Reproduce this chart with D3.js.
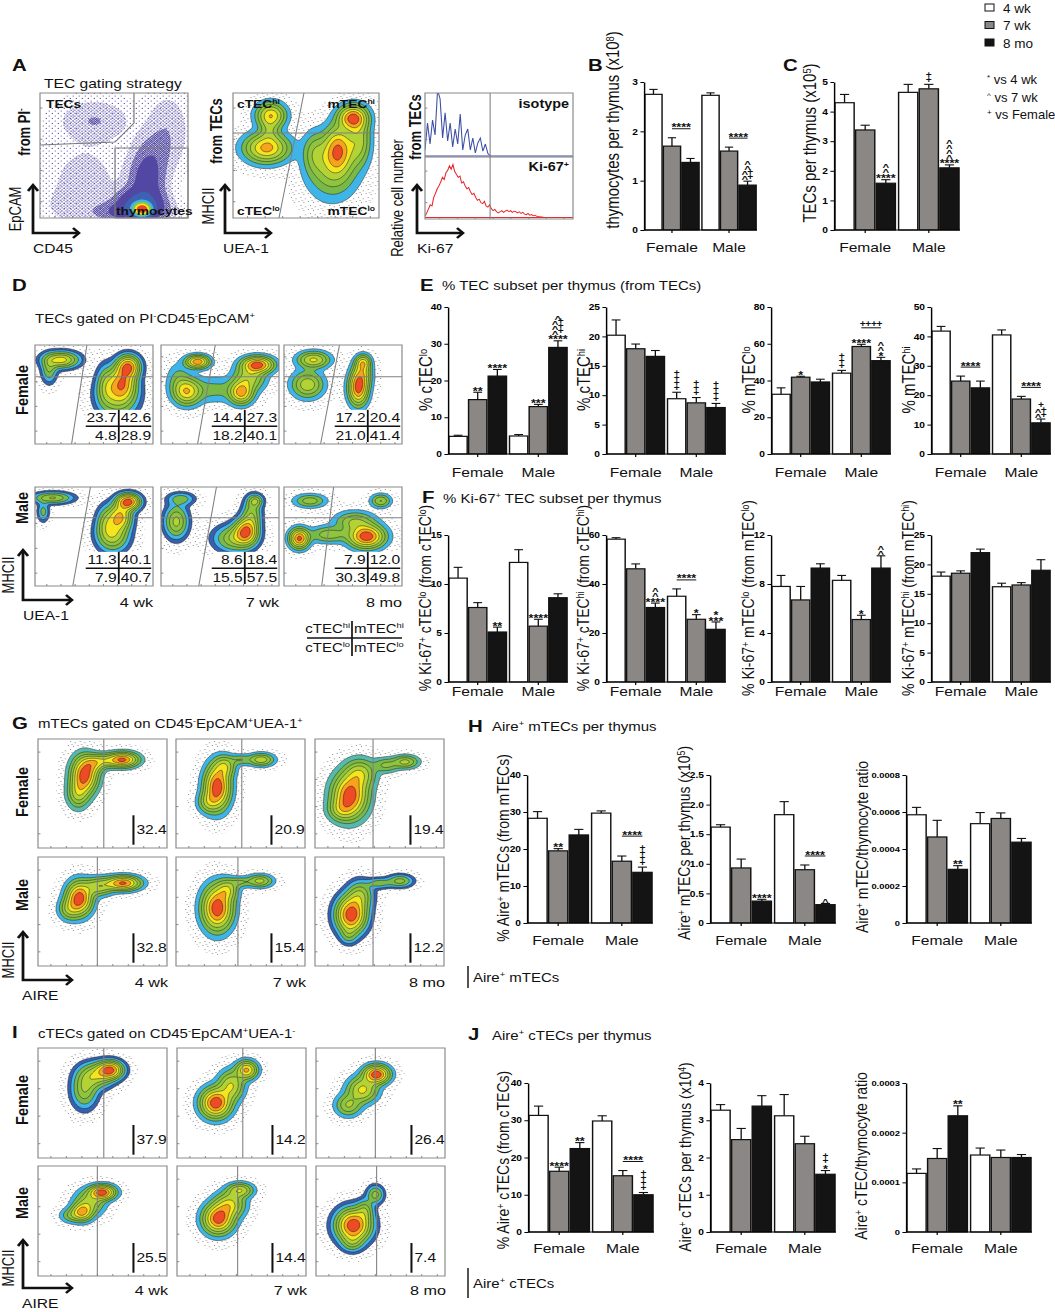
<!DOCTYPE html>
<html>
<head>
<meta charset="utf-8">
<script src="https://cdn.jsdelivr.net/npm/d3@7"></script>
<style>
body { margin: 0; background: #fff; }
text { font-family: "Liberation Sans", Arial, Helvetica, sans-serif; }
</style>
</head>
<body>
<svg id="fig" width="1055" height="1312"></svg>
<script>
// ---------------- data ----------------
var groups = ['Female', 'Male']
var ages = ['4 wk', '7 wk', '8 mo']
var sigLegend = [['*', 'vs 4 wk'], ['^', 'vs 7 wk'], ['+', 'vs Female']]

// B thymocytes per thymus (x10^8)
var thymMean = [[2.75, 1.70, 1.37], [2.73, 1.60, 0.91]]
var thymErr = [[0.10, 0.17, 0.08], [0.05, 0.08, 0.08]]
// C TECs per thymus (x10^5)
var tecMean = [[4.30, 3.38, 1.58], [4.65, 4.77, 2.10]]
var tecErr = [[0.28, 0.16, 0.12], [0.27, 0.15, 0.10]]
// E % TEC subset
var cTECloPct = [[4.8, 14.8, 21.2], [4.9, 12.9, 29.0]]
var cTECloPctErr = [[0.3, 2.0, 1.8], [0.4, 0.6, 1.8]]
var cTEChiPct = [[20.2, 17.9, 16.6], [9.4, 8.7, 7.9]]
var cTEChiPctErr = [[2.6, 0.8, 1.0], [1.1, 0.9, 0.7]]
var mTECloPct = [[32.5, 41.8, 39.2], [44.0, 58.5, 50.8]]
var mTECloPctErr = [[3.5, 0.5, 1.5], [1.5, 1.2, 1.8]]
var mTEChiPct = [[41.8, 24.8, 22.5], [40.5, 18.7, 10.6]]
var mTEChiPctErr = [[1.6, 1.7, 2.3], [1.7, 0.9, 1.3]]
// F % Ki-67+
var kiCTEClo = [[10.6, 7.6, 5.1], [12.2, 5.7, 8.6]]
var kiCTECloErr = [[1.1, 0.5, 0.5], [1.3, 0.7, 0.4]]
var kiCTEChi = [[58.3, 46.2, 30.4], [35.0, 25.6, 21.5]]
var kiCTEChiErr = [[0.6, 2.0, 1.8], [3.0, 1.9, 3.0]]
var kiMTEClo = [[7.8, 6.7, 9.3], [8.3, 5.1, 9.3]]
var kiMTECloErr = [[0.9, 1.1, 0.35], [0.4, 0.35, 1.0]]
var kiMTEChi = [[18.0, 18.5, 22.0], [16.2, 16.5, 19.0]]
var kiMTEChiErr = [[0.7, 0.4, 0.6], [0.6, 0.4, 1.8]]
// H Aire+ mTECs
var aireMPct = [[28.3, 19.5, 23.8], [29.7, 16.7, 13.7]]
var aireMPctErr = [[1.8, 0.6, 1.5], [0.6, 1.4, 1.4]]
var aireMNum = [[1.62, 0.93, 0.37], [1.83, 0.90, 0.31]]
var aireMNumErr = [[0.04, 0.15, 0.03], [0.22, 0.08, 0.02]]
var aireMRatio = [[0.000585, 0.000465, 0.00029], [0.000537, 0.000565, 0.000437]]
var aireMRatioErr = [[0.00004, 0.00009, 0.00002], [0.00006, 0.00003, 0.00002]]
// J Aire+ cTECs
var aireCPct = [[31.3, 16.3, 22.4], [29.8, 15.1, 10.0]]
var aireCPctErr = [[2.5, 1.1, 1.6], [1.4, 1.4, 0.6]]
var aireCNum = [[3.27, 2.48, 3.38], [3.12, 2.37, 1.55]]
var aireCNumErr = [[0.15, 0.30, 0.28], [0.57, 0.20, 0.10]]
var aireCRatio = [[0.000118, 0.000148, 0.000234], [0.000155, 0.000150, 0.000150]]
var aireCRatioErr = [[0.000009, 0.00002, 0.00002], [0.000014, 0.000015, 0.000006]]

// significance marks: [group, bar, rows top->bottom]; brackets: [group, barA, barB, text]
var thymAnn = [[1, 2, ['^', '^', '^+', '^+']]]
var thymBrk = [[0, 1, 2, '****'], [1, 1, 2, '****']]
var tecAnn = [[0, 2, ['^', '^', '****']], [1, 1, ['+', '+']], [1, 2, ['^', '^', '^', '^', '****']]]
var cTECloAnn = [[0, 1, ['**']], [0, 2, ['****']], [1, 1, ['***']], [1, 2, ['^', '^+', '^+', '^+', '****']]]
var cTEChiAnn = [[1, 0, ['+', '+', '+', '+']], [1, 1, ['+', '+', '+']], [1, 2, ['+', '+', '+', '+']]]
var mTECloAnn = [[0, 1, ['*']], [1, 0, ['+', '+', '+']], [1, 1, ['****']], [1, 2, ['^', '^', '*']]]
var mTECloBrk = [[1, 1, 2, '++++']]
var mTEChiAnn = [[1, 2, ['+', '^+', '^+']]]
var mTEChiBrk = [[0, 1, 2, '****'], [1, 1, 2, '****']]
var kiCTECloAnn = [[0, 2, ['**']], [1, 1, ['****']]]
var kiCTEChiAnn = [[0, 2, ['^', '^', '****']], [1, 1, ['*']], [1, 2, ['*', '***']]]
var kiCTEChiBrk = [[1, 0, 1, '****']]
var kiMTECloAnn = [[1, 1, ['*']], [1, 2, ['^', '^']]]
var aireMPctAnn = [[0, 1, ['**']], [1, 2, ['+', '+', '+', '+']]]
var aireMPctBrk = [[1, 1, 2, '****']]
var aireMNumAnn = [[0, 2, ['****']], [1, 2, ['^']]]
var aireMNumBrk = [[1, 1, 2, '****']]
var aireMRatioAnn = [[0, 2, ['**']]]
var aireCPctAnn = [[0, 1, ['****']], [0, 2, ['**']], [1, 2, ['+', '+', '+', '+']]]
var aireCPctBrk = [[1, 1, 2, '****']]
var aireCNumAnn = [[1, 2, ['+', '+', '*']]]
var aireCRatioAnn = [[0, 2, ['**']]]

// flow percentages
var dPct = [[[23.7, 42.6, 4.8, 28.9], [14.4, 27.3, 18.2, 40.1], [17.2, 20.4, 21.0, 41.4]],
            [[11.3, 40.1, 7.9, 40.7], [8.6, 18.4, 15.5, 57.5], [7.9, 12.0, 30.3, 49.8]]]
var gAire = [[32.4, 20.9, 19.4], [32.8, 15.4, 12.2]]
var iAire = [[37.9, 14.2, 26.4], [25.5, 14.4, 7.4]]

// gate positions (fraction of axis)
var dHline = [[0.32, 0.32, 0.32], [0.31, 0.31, 0.31]]
var dDiagTop = [[0.44, 0.46, 0.47], [0.47, 0.47, 0.42]]
var dDiagBot = [[0.31, 0.31, 0.31], [0.32, 0.32, 0.32]]
var gGate = [[0.51, 0.51, 0.45], [0.46, 0.48, 0.45]]
var iGate = [[0.51, 0.51, 0.46], [0.46, 0.47, 0.47]]

// population blobs: [x, y(from top), sdx, sdy, weight] in axis fractions
var gatingBlobs = [[0.69, 0.93, 0.04, 0.035, 12], [0.68, 0.88, 0.09, 0.07, 2.5], [0.72, 0.7, 0.07, 0.12, 1.2],
  [0.76, 0.5, 0.08, 0.12, 0.45], [0.62, 0.95, 0.14, 0.05, 1.2], [0.37, 0.22, 0.14, 0.1, 0.35],
  [0.86, 0.3, 0.09, 0.18, 0.3], [0.3, 0.7, 0.18, 0.22, 0.18], [0.2, 0.92, 0.15, 0.1, 0.1]]
var subsetBlobs = [[0.26, 0.18, 0.06, 0.06, 0.8], [0.23, 0.44, 0.09, 0.07, 0.9], [0.25, 0.3, 0.04, 0.06, 0.25],
  [0.82, 0.2, 0.06, 0.06, 1.1], [0.72, 0.45, 0.06, 0.11, 0.9], [0.68, 0.6, 0.1, 0.14, 0.45],
  [0.56, 0.48, 0.05, 0.1, 0.3], [0.86, 0.38, 0.05, 0.12, 0.5]]
var dBlobs = [[
  [[0.22, 0.15, 0.09, 0.05, 0.7], [0.12, 0.25, 0.04, 0.08, 0.3], [0.79, 0.22, 0.06, 0.07, 1.0], [0.74, 0.38, 0.07, 0.1, 0.8], [0.7, 0.52, 0.1, 0.12, 0.5], [0.6, 0.4, 0.05, 0.12, 0.3]],
  [[0.31, 0.17, 0.06, 0.04, 0.8], [0.22, 0.47, 0.07, 0.08, 0.6], [0.82, 0.2, 0.08, 0.05, 0.9], [0.68, 0.48, 0.06, 0.07, 0.7], [0.75, 0.33, 0.08, 0.08, 0.4], [0.45, 0.45, 0.15, 0.08, 0.15], [0.15, 0.35, 0.06, 0.1, 0.15]],
  [[0.25, 0.15, 0.08, 0.05, 0.6], [0.2, 0.4, 0.08, 0.08, 0.5], [0.63, 0.44, 0.05, 0.1, 1.0], [0.67, 0.18, 0.04, 0.05, 0.6], [0.66, 0.3, 0.05, 0.08, 0.5]]
], [
  [[0.15, 0.11, 0.1, 0.035, 0.4], [0.07, 0.25, 0.03, 0.06, 0.2], [0.79, 0.15, 0.06, 0.05, 1.0], [0.72, 0.3, 0.06, 0.08, 0.7], [0.66, 0.48, 0.08, 0.1, 0.5], [0.6, 0.35, 0.05, 0.1, 0.25]],
  [[0.13, 0.35, 0.06, 0.1, 0.5], [0.17, 0.12, 0.07, 0.04, 0.25], [0.72, 0.45, 0.06, 0.08, 1.0], [0.8, 0.14, 0.04, 0.04, 0.4], [0.62, 0.52, 0.1, 0.08, 0.45], [0.77, 0.28, 0.05, 0.1, 0.4]],
  [[0.13, 0.52, 0.05, 0.06, 0.9], [0.22, 0.14, 0.08, 0.04, 0.3], [0.7, 0.5, 0.09, 0.07, 1.0], [0.82, 0.14, 0.05, 0.04, 0.35], [0.6, 0.35, 0.1, 0.06, 0.35], [0.38, 0.48, 0.1, 0.05, 0.3]]
]]
var gBlobs = [[
  [[0.36, 0.33, 0.06, 0.1, 1.0], [0.31, 0.5, 0.05, 0.08, 0.4], [0.66, 0.19, 0.07, 0.04, 0.9], [0.5, 0.2, 0.08, 0.04, 0.4], [0.43, 0.24, 0.05, 0.05, 0.3]],
  [[0.32, 0.44, 0.06, 0.12, 1.0], [0.38, 0.25, 0.05, 0.06, 0.4], [0.66, 0.19, 0.06, 0.035, 0.45], [0.5, 0.19, 0.05, 0.03, 0.2], [0.25, 0.58, 0.05, 0.06, 0.3]],
  [[0.27, 0.52, 0.08, 0.12, 1.0], [0.35, 0.32, 0.07, 0.08, 0.45], [0.7, 0.21, 0.06, 0.035, 0.4], [0.55, 0.24, 0.06, 0.04, 0.25], [0.2, 0.65, 0.06, 0.06, 0.3]]
], [
  [[0.32, 0.38, 0.06, 0.09, 1.0], [0.66, 0.24, 0.08, 0.04, 0.9], [0.47, 0.27, 0.07, 0.05, 0.45], [0.24, 0.48, 0.05, 0.06, 0.3]],
  [[0.32, 0.47, 0.07, 0.12, 1.0], [0.4, 0.3, 0.05, 0.06, 0.4], [0.65, 0.22, 0.06, 0.035, 0.4], [0.5, 0.23, 0.05, 0.03, 0.2]],
  [[0.28, 0.53, 0.07, 0.1, 1.0], [0.35, 0.35, 0.06, 0.08, 0.35], [0.66, 0.22, 0.06, 0.035, 0.3], [0.5, 0.24, 0.06, 0.03, 0.2], [0.26, 0.72, 0.04, 0.05, 0.15]]
]]
var iBlobs = [[
  [[0.56, 0.2, 0.06, 0.05, 1.0], [0.45, 0.25, 0.08, 0.07, 0.5], [0.36, 0.38, 0.06, 0.1, 0.4]],
  [[0.3, 0.5, 0.07, 0.08, 1.0], [0.54, 0.2, 0.05, 0.05, 0.7], [0.42, 0.34, 0.06, 0.08, 0.5]],
  [[0.47, 0.24, 0.06, 0.05, 1.0], [0.36, 0.38, 0.07, 0.07, 0.55], [0.25, 0.52, 0.06, 0.06, 0.35]]
], [
  [[0.5, 0.24, 0.06, 0.04, 1.0], [0.34, 0.42, 0.05, 0.05, 0.7], [0.4, 0.33, 0.07, 0.07, 0.4], [0.25, 0.45, 0.05, 0.04, 0.2]],
  [[0.32, 0.48, 0.07, 0.08, 1.0], [0.49, 0.22, 0.06, 0.04, 0.5], [0.41, 0.35, 0.07, 0.07, 0.55]],
  [[0.29, 0.54, 0.08, 0.09, 1.0], [0.46, 0.26, 0.04, 0.05, 0.3], [0.38, 0.4, 0.04, 0.06, 0.25], [0.28, 0.7, 0.05, 0.05, 0.2]]
]]

// Ki-67 histograms (relative cell number per channel)
var isotypeHist = [0.1, 0.55, 0.2, 0.6, 0.35, 1.1, 0.95, 0.3, 0.72, 0.25, 0.55, 0.15, 0.45, 0.2, 0.7, 0.1, 0.35, 0.45, 0.1, 0.3, 0.05, 0.22, 0.3, 0.08, 0.2, 0.04, 0]
var ki67Hist = [0.02, 0.08, 0.15, 0.22, 0.2, 0.35, 0.42, 0.5, 0.55, 0.62, 0.7, 0.66, 0.78, 0.82, 0.9, 0.84, 0.92, 0.8, 0.75, 0.7,
  0.72, 0.6, 0.62, 0.55, 0.5, 0.52, 0.45, 0.4, 0.42, 0.35, 0.3, 0.32, 0.26, 0.24, 0.28, 0.2, 0.18, 0.22, 0.15, 0.12,
  0.14, 0.1, 0.08, 0.1, 0.12, 0.09, 0.11, 0.13, 0.1, 0.12, 0.09, 0.11, 0.1, 0.08, 0.1, 0.07, 0.09, 0.06, 0.05, 0.07,
  0.04, 0.05, 0.03, 0.04, 0.02, 0.02, 0.01, 0.01, 0]

// ---------------- drawing ----------------
var SX = 1.2   // the figure is stretched horizontally
function X(v) { return v / SX }
var svg = d3.select('#fig')
var defs = svg.append('defs')
var root = svg.append('g').attr('transform', 'scale(' + SX + ',1)')
var barFill = ['#ffffff', '#8b8784', '#141414']

function rich(t, s) {
  s.split(/(\^\{[^}]*\})/).forEach(function (p) {
    if (!p) return
    if (p.charAt(0) === '^' && p.charAt(1) === '{') t.append('tspan').attr('baseline-shift', 'super').attr('font-size', '62%').text(p.slice(2, -1))
    else t.append('tspan').text(p)
  })
  return t
}
function txt(x, y, s, size, o) {
  o = o || {}
  var t = root.append('text').attr('x', X(x)).attr('y', y).attr('font-size', size)
    .attr('font-weight', o.bold ? 'bold' : 'normal').attr('text-anchor', o.anchor || 'start').attr('fill', '#111')
  return rich(t, s)
}
function vtxt(x, y, s, size, o) {
  o = o || {}
  var t = root.append('text').attr('transform', 'translate(' + X(x) + ',' + y + ') rotate(-90)')
    .attr('dy', '0.36em').attr('font-size', size).attr('font-weight', o.bold ? 'bold' : 'normal')
    .attr('text-anchor', 'middle').attr('fill', '#111')
  return rich(t, s)
}
function seg(x1, y1, x2, y2, col, w) {
  root.append('line').attr('x1', X(x1)).attr('y1', y1).attr('x2', X(x2)).attr('y2', y2)
    .attr('stroke', col || '#111').attr('stroke-width', w || 1)
}
function axisArrow(x, y, up, right) {
  var g = root.append('g').attr('stroke', '#111').attr('stroke-width', 2.3).attr('fill', 'none')
  g.append('path').attr('d', 'M' + X(x) + ',' + (y - up) + 'V' + y + 'H' + X(x + right))
  g.append('path').attr('d', 'M' + X(x - 5) + ',' + (y - up + 6) + 'L' + X(x) + ',' + (y - up) + 'L' + X(x + 5) + ',' + (y - up + 6))
  g.append('path').attr('d', 'M' + X(x + right - 6) + ',' + (y - 5) + 'L' + X(x + right) + ',' + y + 'L' + X(x + right - 6) + ',' + (y + 5))
}
function dotPattern(id, size, pts, r, color) {
  var p = defs.append('pattern').attr('id', id).attr('patternUnits', 'userSpaceOnUse').attr('width', size).attr('height', size)
  pts.forEach(function (q) { p.append('circle').attr('cx', q[0]).attr('cy', q[1]).attr('r', r).attr('fill', color) })
}
dotPattern('dots', 8, [[1, 1.5], [5.2, 2.6], [2.8, 5.4], [6.6, 6.8], [4, 0.2]], 0.5, '#7e7e7e')
dotPattern('pu1', 5, [[1, 1], [3.6, 3.4]], 0.55, '#5a4fa8')
dotPattern('pu2', 3, [[0.8, 0.8], [2.3, 2.2]], 0.6, '#5a4fa8')
dotPattern('pu3', 2, [[0.5, 0.5], [1.5, 1.5]], 0.65, '#5148a0')

// ---- flow plots ----
function density(comps, nx, ny) {
  var v = []
  for (var j = 0; j < ny; j++) for (var i = 0; i < nx; i++) {
    var px = (i + 0.5) / nx, py = (j + 0.5) / ny, s = 0
    for (var k = 0; k < comps.length; k++) {
      var c = comps[k], dx = (px - c[0]) / c[2], dy = (py - c[1]) / c[3]
      s += c[4] * Math.exp(-0.5 * (dx * dx + dy * dy))
    }
    v.push(s)
  }
  return v
}
var clipN = 0
function flowFrame(b) {
  var f = { bx: X(b.x), by: b.y, bw: X(b.w), bh: b.h, nx: 96 }
  f.ny = Math.round(f.nx * b.h / b.w)
  var id = 'clip' + (clipN++)
  defs.append('clipPath').attr('id', id).append('rect').attr('x', f.bx).attr('y', f.by).attr('width', f.bw).attr('height', f.bh)
  f.g = root.append('g')
  f.inner = f.g.append('g').attr('clip-path', 'url(#' + id + ')')
  return f
}
function finishFrame(f) {
  var t = f.g.append('g').attr('stroke', '#777').attr('stroke-width', 0.8)
  d3.range(0.12, 1, 0.25).forEach(function (r) {
    t.append('line').attr('x1', f.bx).attr('x2', f.bx + 2).attr('y1', f.by + f.bh * r).attr('y2', f.by + f.bh * r)
  })
  d3.range(0.1, 1, 0.12).forEach(function (r) {
    t.append('line').attr('x1', f.bx + f.bw * r).attr('x2', f.bx + f.bw * r).attr('y1', f.by + f.bh).attr('y2', f.by + f.bh - 2)
  })
  f.g.append('rect').attr('x', f.bx).attr('y', f.by).attr('width', f.bw).attr('height', f.bh)
    .attr('fill', 'none').attr('stroke', '#8a8a8a').attr('stroke-width', 1)
}
function drawLevels(f, comps, th, fills, absolute, lined) {
  var vals = density(comps, f.nx, f.ny)
  var mx = d3.max(vals)
  var levels = absolute ? th : th.map(function (l) { return l * mx })
  var cs = d3.contours().size([f.nx, f.ny]).thresholds(levels)(vals)
  var path = d3.geoPath(d3.geoTransform({ point: function (x, y) { this.stream.point(f.bx + x * f.bw / f.nx, f.by + y * f.bh / f.ny) } }))
  f.inner.selectAll(null).data(cs).enter().append('path')
    .attr('d', path)
    .attr('fill', function (d, i) { return fills[i] })
    .attr('stroke', function (d, i) { return lined && i > 0 ? '#1d1d1d' : 'none' })
    .attr('stroke-width', 0.45)
}
var ramp = ['#79b948', '#8fc43f', '#b3d236', '#f4e61e', '#f7a31b', '#ee4a24']
var outerCol = { light: '#3fb5e7', teal: '#55b9ae' }
function popPlot(f, comps, outer) {
  if (outer === 'dark') {
    drawLevels(f, comps, [0.0015, 0.035, 0.08, 0.15, 0.25, 0.36, 0.5, 0.66, 0.84],
      ['url(#dots)', '#3561ae', '#3fb5e7'].concat(ramp), false, true)
  } else {
    drawLevels(f, comps, [0.0015, 0.045, 0.12, 0.22, 0.34, 0.5, 0.66, 0.84],
      ['url(#dots)', outerCol[outer]].concat(ramp), false, true)
  }
}
function relLine(f, x1, y1, x2, y2, col, w) {
  f.g.append('line').attr('x1', f.bx + f.bw * x1).attr('y1', f.by + f.bh * y1)
    .attr('x2', f.bx + f.bw * x2).attr('y2', f.by + f.bh * y2)
    .attr('stroke', col || '#808080').attr('stroke-width', w || 0.9)
}

// ---- panel A ----
txt(12, 71, 'A', 17, { bold: true })
txt(44, 88, 'TEC gating strategy', 13)
var a1 = { x: 40, y: 93, w: 148, h: 125 }
var fa1 = flowFrame(a1)
drawLevels(fa1, gatingBlobs, [0.02, 0.12, 0.35, 0.8, 2, 4, 6, 8.5, 11],
  ['url(#pu1)', 'url(#pu2)', 'url(#pu3)', '#5247a2', '#3d62b3', '#3fb5e6', '#8cc63f', '#f5e61f', '#ee4624'], true, false)
fa1.g.append('path').attr('fill', 'none').attr('stroke', '#7a7a7a').attr('stroke-width', 1)
  .attr('d', 'M' + (fa1.bx + fa1.bw * 0.635) + ',' + fa1.by + 'V' + (fa1.by + fa1.bh * 0.24) +
    'L' + (fa1.bx + fa1.bw * 0.507) + ',' + (fa1.by + fa1.bh * 0.392) + 'L' + fa1.bx + ',' + (fa1.by + fa1.bh * 0.416))
fa1.g.append('rect').attr('x', fa1.bx + fa1.bw * 0.507).attr('y', fa1.by + fa1.bh * 0.44)
  .attr('width', fa1.bw * 0.493).attr('height', fa1.bh * 0.56).attr('fill', 'none').attr('stroke', '#7a7a7a').attr('stroke-width', 1)
finishFrame(fa1)
txt(46, 108, 'TECs', 11.5, { bold: true })
txt(116, 215, 'thymocytes', 11.5, { bold: true })
vtxt(15, 209, 'EpCAM', 13)
vtxt(24, 132, 'from PI^{-}', 13, { bold: true })
axisArrow(33, 233, 48, 46)
txt(33, 253, 'CD45', 13)

var a2 = { x: 233, y: 93, w: 146, h: 125 }
var fa2 = flowFrame(a2)
popPlot(fa2, subsetBlobs, 'light')
relLine(fa2, 0, 0.32, 1, 0.32)
relLine(fa2, 0.486, 0, 0.315, 1)
finishFrame(fa2)
txt(237, 108, 'cTEC^{hi}', 11.5, { bold: true })
txt(375, 108, 'mTEC^{hi}', 11.5, { bold: true, anchor: 'end' })
txt(237, 215, 'cTEC^{lo}', 11.5, { bold: true })
txt(375, 215, 'mTEC^{lo}', 11.5, { bold: true, anchor: 'end' })
vtxt(208, 206, 'MHCII', 13)
vtxt(216, 131, 'from TECs', 13, { bold: true })
axisArrow(225, 233, 48, 46)
txt(223, 253, 'UEA-1', 13)

var a3 = { x: 425, y: 93, w: 148, h: 126 }
var fa3 = flowFrame(a3)
var hx = d3.scaleLinear().domain([0, 100]).range([fa3.bx, fa3.bx + fa3.bw])
var hMid = 157
var yIso = d3.scaleLinear().domain([0, 1]).range([hMid - 1, a3.y + 3])
var yKi = d3.scaleLinear().domain([0, 1]).range([a3.y + a3.h - 1.5, hMid + 3])
fa3.inner.append('path').attr('fill', 'none').attr('stroke', '#3d4fa6').attr('stroke-width', 0.9)
  .attr('d', d3.line().x(function (d, i) { return hx(i * 1.7) }).y(function (d) { return yIso(d) })(isotypeHist))
fa3.inner.append('line').attr('x1', hx(0)).attr('x2', hx(100)).attr('y1', yIso(0)).attr('y2', yIso(0)).attr('stroke', '#3d4fa6').attr('stroke-width', 1)
fa3.inner.append('path').attr('fill', 'none').attr('stroke', '#e8262b').attr('stroke-width', 0.9)
  .attr('d', d3.line().x(function (d, i) { return hx(i * 1.18) }).y(function (d) { return yKi(d) })(ki67Hist))
fa3.inner.append('line').attr('x1', hx(0)).attr('x2', hx(100)).attr('y1', yKi(0)).attr('y2', yKi(0)).attr('stroke', '#e8262b').attr('stroke-width', 1)
fa3.g.append('line').attr('x1', fa3.bx).attr('x2', fa3.bx + fa3.bw).attr('y1', hMid).attr('y2', hMid).attr('stroke', '#808080').attr('stroke-width', 0.9)
relLine(fa3, 0.44, 0, 0.44, 1)
finishFrame(fa3)
txt(569, 108, 'isotype', 12, { bold: true, anchor: 'end' })
txt(569, 171, 'Ki-67^{+}', 12, { bold: true, anchor: 'end' })
vtxt(397, 198, 'Relative cell number', 13)
vtxt(415, 127, 'from TECs', 13, { bold: true })
axisArrow(417, 233, 48, 46)
txt(417, 253, 'Ki-67', 13)

// legend (drawn unstretched so it fits the right edge)
var leg = svg.append('g')
ages.forEach(function (a, i) {
  leg.append('rect').attr('x', 985).attr('y', 4 + i * 17.5).attr('width', 9).attr('height', 7)
    .attr('fill', barFill[i]).attr('stroke', '#111').attr('stroke-width', 1)
  leg.append('text').attr('x', 1003).attr('y', 12.5 + i * 17.5).attr('font-size', 13.5).attr('fill', '#111').text(a)
})
sigLegend.forEach(function (s, i) {
  rich(leg.append('text').attr('x', 987).attr('y', 84 + i * 17.5).attr('font-size', 13).attr('fill', '#111'), '^{' + s[0] + '} ' + s[1])
})

// ---- D ----
txt(12, 291, 'D', 17, { bold: true })
txt(35, 323, 'TECs gated on PI^{-}CD45^{-}EpCAM^{+}', 12.5)
var dBox = { xs: [35, 161, 284], ys: [345, 487], w: 118, h: 99 }
var dOuter = [['dark', 'light', 'light'], ['dark', 'dark', 'light']]
function fmt1(v) { return v.toFixed(1) }
dBox.ys.forEach(function (by, r) {
  dBox.xs.forEach(function (bx, c) {
    var b = { x: bx, y: by, w: dBox.w, h: dBox.h }
    var f = flowFrame(b)
    popPlot(f, dBlobs[r][c], dOuter[r][c])
    f.inner.append('rect').attr('x', f.bx + f.bw * 0.44).attr('y', f.by + f.bh * 0.655)
      .attr('width', f.bw * 0.56).attr('height', f.bh * 0.345).attr('fill', '#fff')
    relLine(f, 0, dHline[r][c], 1, dHline[r][c])
    relLine(f, dDiagTop[r][c], 0, dDiagBot[r][c], 1)
    finishFrame(f)
    var v = dPct[r][c], dx = b.x + b.w * 0.71, ly = b.y + b.h * 0.82
    seg(b.x + b.w * 0.43, ly, b.x + b.w * 0.985, ly, '#111', 1.5)
    seg(dx, b.y + b.h * 0.655, dx, b.y + b.h - 2, '#111', 1.5)
    txt(dx - 2, ly - 4, fmt1(v[0]), 13, { anchor: 'end' })
    txt(dx + 2, ly - 4, fmt1(v[1]), 13)
    txt(dx - 2, ly + 14, fmt1(v[2]), 13, { anchor: 'end' })
    txt(dx + 2, ly + 14, fmt1(v[3]), 13)
    if (r === 1) txt(b.x + b.w, 607, ages[c], 13.5, { anchor: 'end' })
  })
})
vtxt(22, 390, 'Female', 14.5, { bold: true })
vtxt(22, 508, 'Male', 14.5, { bold: true })
vtxt(8, 575, 'MHCII', 13)
axisArrow(23, 600, 50, 49)
txt(23, 620, 'UEA-1', 13)
seg(307, 638, 402, 638, '#111', 1.4)
seg(352, 621, 352, 656, '#111', 1.4)
txt(350, 633, 'cTEC^{hi}', 12.5, { anchor: 'end' })
txt(354, 633, 'mTEC^{hi}', 12.5)
txt(350, 652, 'cTEC^{lo}', 12.5, { anchor: 'end' })
txt(354, 652, 'mTEC^{lo}', 12.5)

// ---- G and I ----
function aireRow(boxes, blobs, outers, gates, pct, labY, arrowY) {
  boxes.ys.forEach(function (by, r) {
    boxes.xs.forEach(function (bx, c) {
      var b = { x: bx, y: by, w: boxes.w, h: boxes.h }
      var f = flowFrame(b)
      popPlot(f, blobs[r][c], outers[r][c])
      relLine(f, gates[r][c], 0, gates[r][c], 1)
      finishFrame(f)
      var lx = b.x + b.w * 0.74
      seg(lx, b.y + b.h * 0.7, lx, b.y + b.h * 0.97, '#111', 1.7)
      txt(lx + 3, b.y + b.h * 0.83 + 4.7, fmt1(pct[r][c]), 13)
      if (r === 1) txt(b.x + b.w + 1, arrowY + 7, ages[c], 13.5, { anchor: 'end' })
    })
  })
  vtxt(22, labY[0], 'Female', 14.5, { bold: true })
  vtxt(22, labY[1], 'Male', 14.5, { bold: true })
  vtxt(8, arrowY - 20, 'MHCII', 13)
  axisArrow(23, arrowY, 48, 49)
  txt(22, arrowY + 20, 'AIRE', 13)
}
txt(12, 729, 'G', 17, { bold: true })
txt(38, 728, 'mTECs gated on CD45^{-}EpCAM^{+}UEA-1^{+}', 12.5)
aireRow({ xs: [38, 176, 315], ys: [739, 857], w: 129, h: 109 }, gBlobs,
  [['teal', 'light', 'teal'], ['light', 'light', 'dark']], gGate, gAire, [792, 895], 980)
txt(12, 1038, 'I', 17, { bold: true })
txt(38, 1038, 'cTECs gated on CD45^{-}EpCAM^{+}UEA-1^{-}', 12.5)
aireRow({ xs: [38, 177, 316], ys: [1048, 1166], w: 129, h: 110 }, iBlobs,
  [['dark', 'light', 'light'], ['light', 'light', 'dark']], iGate, iAire, [1100, 1203], 1288)

// ---- bar charts ----
// one text element per stack of significance marks
function stack(g, cx, base, rows) {
  var t = g.append('text').attr('text-anchor', 'middle').attr('font-weight', 'bold').attr('fill', '#111')
  var cur = base
  for (var r = rows.length - 1; r >= 0; r--) {
    var row = rows[r]
    if (row.indexOf('*') >= 0) {
      t.append('tspan').attr('x', cx).attr('y', cur + 4.6).attr('font-size', 10.5).text(row)
      cur -= 5.5
    } else {
      var chars = row.split('')
      chars.forEach(function (ch, k) {
        var dx = (k - (chars.length - 1) / 2) * 4.6
        t.append('tspan').attr('x', cx + dx).attr('y', ch === '^' ? cur + 3.3 : cur + 0.9)
          .attr('font-size', ch === '^' ? 9.5 : 8.5).text(ch)
      })
      cur -= 5
    }
  }
  return cur
}
function barChart(c) {
  var g = root.append('g')
  var x0 = X(c.x), x1 = X(c.x + c.w)
  var y = d3.scaleLinear().domain([0, c.max]).range([c.y1, c.y0])
  var xg = d3.scaleBand().domain(groups).range([x0, x1]).paddingInner(0.05).paddingOuter(0.015)
  var xb = d3.scaleBand().domain([0, 1, 2]).range([0, xg.bandwidth()]).paddingInner(0.07)
  var bw = xb.bandwidth()
  var tops = [[], []]
  function cxOf(gi, si) { return xg(groups[gi]) + xb(si) + bw / 2 }
  groups.forEach(function (gr, gi) {
    var gg = g.append('g')
    gg.selectAll('line.err').data(c.mean[gi]).enter().append('line')
      .attr('x1', function (d, si) { return cxOf(gi, si) }).attr('x2', function (d, si) { return cxOf(gi, si) })
      .attr('y1', function (d) { return y(d) }).attr('y2', function (d, si) { return y(d + c.err[gi][si]) })
      .attr('stroke', '#111').attr('stroke-width', 1.1)
    gg.selectAll('line.cap').data(c.mean[gi]).enter().append('line')
      .attr('x1', function (d, si) { return cxOf(gi, si) - bw * 0.24 }).attr('x2', function (d, si) { return cxOf(gi, si) + bw * 0.24 })
      .attr('y1', function (d, si) { return y(d + c.err[gi][si]) }).attr('y2', function (d, si) { return y(d + c.err[gi][si]) })
      .attr('stroke', '#111').attr('stroke-width', 1.1)
    gg.selectAll('rect').data(c.mean[gi]).enter().append('rect')
      .attr('x', function (d, si) { return xg(gr) + xb(si) })
      .attr('y', function (d) { return y(d) })
      .attr('width', bw).attr('height', function (d) { return c.y1 - y(d) })
      .attr('fill', function (d, si) { return barFill[si] })
      .attr('stroke', '#111').attr('stroke-width', 1.2)
    c.mean[gi].forEach(function (d, si) { tops[gi][si] = y(d + c.err[gi][si]) })
  })
  var fmt = c.fmt ? function (d) { return d === 0 ? '0' : d3.format(c.fmt)(d) } : d3.format('d')
  var ya = g.append('g').attr('transform', 'translate(' + x0 + ',0)')
    .call(d3.axisLeft(y).tickValues(d3.range(0, c.max + c.step / 2, c.step)).tickSize(3).tickSizeOuter(0).tickPadding(2).tickFormat(fmt))
  ya.selectAll('text').attr('font-size', c.fmt === '.4f' ? 7.8 : 8.5).attr('font-weight', 'bold')
    .attr('font-family', '"Liberation Sans", Arial, sans-serif')
  ya.select('.domain').attr('stroke-width', 1.2)
  var xa = g.append('g').attr('transform', 'translate(0,' + c.y1 + ')')
    .call(d3.axisBottom(xg).tickSize(3).tickSizeOuter(0).tickFormat(''))
  xa.select('.domain').attr('d', 'M' + x0 + ',0H' + x1).attr('stroke-width', 1.2)
  groups.forEach(function (gr) {
    g.append('text').attr('x', xg(gr) + xg.bandwidth() / 2).attr('y', c.y1 + c.cat)
      .attr('text-anchor', 'middle').attr('font-size', 13).attr('fill', '#111').text(gr)
  })
  ;(c.ann || []).forEach(function (a) { tops[a[0]][a[1]] = stack(g, cxOf(a[0], a[1]), tops[a[0]][a[1]] - 2, a[2]) })
  ;(c.brk || []).forEach(function (k) {
    var ly = Math.min(tops[k[0]][k[1]], tops[k[0]][k[2]]) - 9
    g.append('line').attr('x1', cxOf(k[0], k[1])).attr('x2', cxOf(k[0], k[2])).attr('y1', ly).attr('y2', ly)
      .attr('stroke', '#111').attr('stroke-width', 1)
    stack(g, (cxOf(k[0], k[1]) + cxOf(k[0], k[2])) / 2, ly - 2, [k[3]])
  })
  vtxt(c.lx, c.ly, c.lab, c.ls)
}

var eX = [448, 606, 771, 931]
var charts = [
  { mean: thymMean, err: thymErr, max: 3, step: 1, x: 644, w: 113, y0: 82, y1: 230, lab: 'thymocytes per thymus (x10^{8})', lx: 613, ly: 130, ls: 15, cat: 22, ann: thymAnn, brk: thymBrk },
  { mean: tecMean, err: tecErr, max: 5, step: 1, x: 834, w: 126, y0: 82, y1: 230, lab: 'TECs per thymus (x10^{5})', lx: 810, ly: 143, ls: 15, cat: 22, ann: tecAnn },
  { mean: cTECloPct, err: cTECloPctErr, max: 40, step: 10, x: eX[0], w: 120, y0: 307, y1: 454, lab: '% cTEC^{lo}', lx: eX[0] - 22, ly: 380, ls: 15, cat: 23, ann: cTECloAnn },
  { mean: cTEChiPct, err: cTEChiPctErr, max: 25, step: 5, x: eX[1], w: 120, y0: 307, y1: 454, lab: '% cTEC^{hi}', lx: eX[1] - 22, ly: 380, ls: 15, cat: 23, ann: cTEChiAnn },
  { mean: mTECloPct, err: mTECloPctErr, max: 80, step: 20, x: eX[2], w: 120, y0: 307, y1: 454, lab: '% mTEC^{lo}', lx: eX[2] - 22, ly: 380, ls: 15, cat: 23, ann: mTECloAnn, brk: mTECloBrk },
  { mean: mTEChiPct, err: mTEChiPctErr, max: 50, step: 10, x: eX[3], w: 120, y0: 307, y1: 454, lab: '% mTEC^{hi}', lx: eX[3] - 22, ly: 380, ls: 15, cat: 23, ann: mTEChiAnn, brk: mTEChiBrk },
  { mean: kiCTEClo, err: kiCTECloErr, max: 15, step: 5, x: eX[0], w: 120, y0: 535, y1: 682, lab: '% Ki-67^{+} cTEC^{lo} (from cTEC^{lo})', lx: eX[0] - 23, ly: 598, ls: 14, cat: 14, ann: kiCTECloAnn },
  { mean: kiCTEChi, err: kiCTEChiErr, max: 60, step: 20, x: eX[1], w: 120, y0: 535, y1: 682, lab: '% Ki-67^{+} cTEC^{hi} (from cTEC^{hi})', lx: eX[1] - 23, ly: 598, ls: 14, cat: 14, ann: kiCTEChiAnn, brk: kiCTEChiBrk },
  { mean: kiMTEClo, err: kiMTECloErr, max: 12, step: 4, x: eX[2], w: 120, y0: 535, y1: 682, lab: '% Ki-67^{+} mTEC^{lo} (from mTEC^{lo})', lx: eX[2] - 23, ly: 598, ls: 14, cat: 14, ann: kiMTECloAnn },
  { mean: kiMTEChi, err: kiMTEChiErr, max: 25, step: 5, x: eX[3], w: 120, y0: 535, y1: 682, lab: '% Ki-67^{+} mTEC^{hi} (from mTEC^{hi})', lx: eX[3] - 23, ly: 598, ls: 14, cat: 14 },
  { mean: aireMPct, err: aireMPctErr, max: 40, step: 10, x: 527, w: 126, y0: 775, y1: 923, lab: '% Aire^{+} mTECs (from mTECs)', lx: 503, ly: 848, ls: 14, cat: 22, ann: aireMPctAnn, brk: aireMPctBrk },
  { mean: aireMNum, err: aireMNumErr, max: 2.5, step: 0.5, fmt: '.1f', x: 710, w: 126, y0: 775, y1: 923, lab: 'Aire^{+} mTECs per thymus (x10^{5})', lx: 684, ly: 843, ls: 14, cat: 22, ann: aireMNumAnn, brk: aireMNumBrk },
  { mean: aireMRatio, err: aireMRatioErr, max: 0.0008, step: 0.0002, fmt: '.4f', x: 906, w: 126, y0: 775, y1: 923, lab: 'Aire^{+} mTEC/thymocyte ratio', lx: 862, ly: 847, ls: 14, cat: 22, ann: aireMRatioAnn },
  { mean: aireCPct, err: aireCPctErr, max: 40, step: 10, x: 528, w: 126, y0: 1083, y1: 1232, lab: '% Aire^{+} cTECs (from cTECs)', lx: 503, ly: 1160, ls: 14, cat: 21, ann: aireCPctAnn, brk: aireCPctBrk },
  { mean: aireCNum, err: aireCNumErr, max: 4, step: 1, x: 710, w: 126, y0: 1083, y1: 1232, lab: 'Aire^{+} cTECs per thymus (x10^{4})', lx: 685, ly: 1157, ls: 14, cat: 21, ann: aireCNumAnn },
  { mean: aireCRatio, err: aireCRatioErr, max: 0.0003, step: 0.0001, fmt: '.4f', x: 906, w: 126, y0: 1083, y1: 1232, lab: 'Aire^{+} cTEC/thymocyte ratio', lx: 861, ly: 1156, ls: 14, cat: 21, ann: aireCRatioAnn }
]
charts.forEach(barChart)

// panel letters and titles of the bar panels
txt(588, 71, 'B', 17, { bold: true })
txt(783, 71, 'C', 17, { bold: true })
txt(420, 291, 'E', 17, { bold: true })
txt(442, 290, '% TEC subset per thymus (from TECs)', 12.5)
txt(422, 503, 'F', 17, { bold: true })
txt(443, 503, '% Ki-67^{+} TEC subset per thymus', 12.5)
txt(468, 732, 'H', 17, { bold: true })
txt(492, 731, 'Aire^{+} mTECs per thymus', 12.5)
txt(468, 1040, 'J', 17, { bold: true })
txt(492, 1040, 'Aire^{+} cTECs per thymus', 12.5)
seg(468, 966, 468, 988, '#111', 1.2)
txt(473, 982, 'Aire^{+} mTECs', 12.5)
seg(468, 1268, 468, 1298, '#111', 1.2)
txt(473, 1288, 'Aire^{+} cTECs', 12.5)
</script>
</body>
</html>
